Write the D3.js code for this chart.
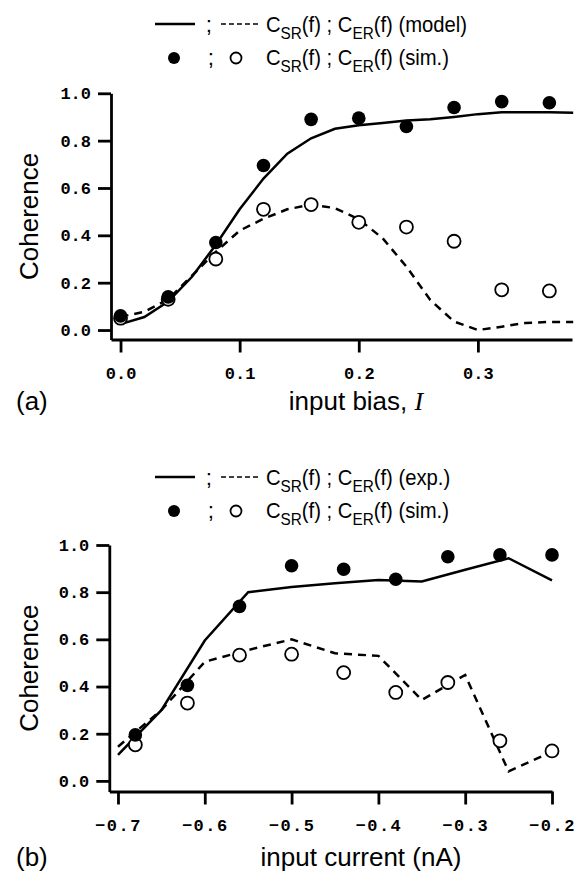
<!DOCTYPE html>
<html>
<head>
<meta charset="utf-8">
<script src="https://cdn.jsdelivr.net/npm/d3@7"></script>
<style>
  body { margin: 0; background: #fff; }
  svg { display: block; }
  .tick text { font-family: "Liberation Mono", monospace; font-size: 17px; font-weight: bold; fill: #000; }
  .domain, .tick line { stroke: #000; stroke-width: 2.8; }
  .lbl { font-family: "Liberation Sans", Arial, sans-serif; font-size: 26px; fill: #000; }
  .leg { font-family: "Liberation Sans", Arial, sans-serif; font-size: 22.5px; fill: #000; }
</style>
</head>
<body>
<div id="chart"></div>
<script>
// panel (a): model curves against input bias
var biasModel = [0, 0.02, 0.04, 0.06, 0.08, 0.10, 0.12, 0.14, 0.16, 0.18,
                 0.20, 0.22, 0.24, 0.26, 0.28, 0.30, 0.32, 0.34, 0.36, 0.38];
var srModel = [0.025, 0.055, 0.12, 0.225, 0.36, 0.51, 0.64, 0.745, 0.81, 0.85,
               0.865, 0.875, 0.885, 0.89, 0.90, 0.912, 0.92, 0.92, 0.92, 0.918];
var erModel = [0.056, 0.077, 0.13, 0.23, 0.33, 0.42, 0.47, 0.51, 0.53, 0.515,
               0.468, 0.388, 0.268, 0.127, 0.036, 0.0, 0.014, 0.03, 0.034, 0.034];

// panel (a): simulation points
var biasSim = [0, 0.04, 0.08, 0.12, 0.16, 0.20, 0.24, 0.28, 0.32, 0.36];
var srSimA = [0.06, 0.14, 0.37, 0.695, 0.89, 0.895, 0.86, 0.94, 0.965, 0.96];
var erSimA = [0.05, 0.13, 0.30, 0.51, 0.53, 0.455, 0.435, 0.375, 0.17, 0.165];

// panel (b): experiment curves against input current
var current = [-0.70, -0.65, -0.60, -0.55, -0.50, -0.45, -0.40, -0.35, -0.30, -0.25, -0.20];
var srExp = [0.11, 0.30, 0.595, 0.80, 0.822, 0.838, 0.852, 0.845, 0.895, 0.944, 0.85];
var erExp = [0.145, 0.30, 0.505, 0.555, 0.60, 0.541, 0.53, 0.343, 0.449, 0.04, 0.124];

// panel (b): simulation points
var currentSim = [-0.68, -0.62, -0.56, -0.50, -0.44, -0.38, -0.32, -0.26, -0.20];
var srSimB = [0.195, 0.405, 0.74, 0.912, 0.897, 0.855, 0.95, 0.958, 0.958];
var erSimB = [0.153, 0.33, 0.533, 0.537, 0.459, 0.375, 0.417, 0.17, 0.127];

var yTicks = [0, 0.2, 0.4, 0.6, 0.8, 1.0];
var xTicksA = [0, 0.1, 0.2, 0.3];
var xTicksB = [-0.7, -0.6, -0.5, -0.4, -0.3, -0.2];

var svg = d3.select("#chart").append("svg")
  .attr("width", 581)
  .attr("height", 876);

function drawPanel(p) {
  var x = d3.scaleLinear().domain(p.xDomain).range(p.xRange),
    y = d3.scaleLinear().domain(p.yDomain).range(p.yRange);

  var g = svg.append("g");

  g.append("g")
    .attr("transform", "translate(0," + p.yRange[0] + ")")
    .call(d3.axisBottom(x).tickValues(p.xTicks).tickSize(13).tickSizeOuter(0)
      .tickPadding(14).tickFormat(p.xFormat))
    .selectAll(".tick text")
      .attr("letter-spacing", p.xSpacing);

  g.append("g")
    .attr("transform", "translate(" + p.xRange[0] + ",0)")
    .call(d3.axisLeft(y).tickValues(yTicks).tickSize(13).tickSizeOuter(0)
      .tickPadding(7).tickFormat(d3.format(".1f")));

  var line = d3.line()
    .x(function(d) { return x(d[0]); })
    .y(function(d) { return y(d[1]); });

  g.append("path")
    .datum(d3.zip(p.lineX, p.solid))
    .attr("fill", "none")
    .attr("stroke", "#000")
    .attr("stroke-width", 2.5)
    .attr("d", line);

  g.append("path")
    .datum(d3.zip(p.lineX, p.dashed))
    .attr("fill", "none")
    .attr("stroke", "#000")
    .attr("stroke-width", 2.5)
    .attr("stroke-dasharray", "8,6")
    .attr("d", line);

  g.selectAll(".open")
    .data(d3.zip(p.simX, p.open))
  .enter().append("circle")
    .attr("class", "open")
    .attr("cx", function(d) { return x(d[0]); })
    .attr("cy", function(d) { return y(d[1]); })
    .attr("r", 6.5)
    .attr("fill", "#fff")
    .attr("stroke", "#000")
    .attr("stroke-width", 1.8);

  g.selectAll(".filled")
    .data(d3.zip(p.simX, p.filled))
  .enter().append("circle")
    .attr("class", "filled")
    .attr("cx", function(d) { return x(d[0]); })
    .attr("cy", function(d) { return y(d[1]); })
    .attr("r", 6.8)
    .attr("fill", "#000");

  // y label
  g.append("text")
    .attr("class", "lbl")
    .attr("text-anchor", "middle")
    .attr("transform", "translate(38," + (p.yRange[0] + p.yRange[1]) / 2 + ") rotate(-90)")
    .text("Coherence");

  // x label + panel letter
  var xl = g.append("text")
    .attr("class", "lbl")
    .attr("text-anchor", "middle")
    .attr("x", p.xLabelX)
    .attr("y", p.labelY);
  xl.append("tspan").text(p.xLabel);
  if (p.xLabelItalic) {
    xl.append("tspan")
      .style("font-family", "'Liberation Serif', serif")
      .style("font-style", "italic")
      .text(p.xLabelItalic);
  }

  g.append("text")
    .attr("class", "lbl")
    .attr("x", 16)
    .attr("y", p.labelY)
    .text(p.letter);

  drawLegend(g, p.legendY, p.legendTag);
}

function drawLegend(g, y0, tag) {
  g.append("line")
    .attr("x1", 155).attr("x2", 195).attr("y1", y0).attr("y2", y0)
    .attr("stroke", "#000").attr("stroke-width", 2.4);
  g.append("line")
    .attr("x1", 221).attr("x2", 258).attr("y1", y0).attr("y2", y0)
    .attr("stroke", "#000").attr("stroke-width", 1.4)
    .attr("stroke-dasharray", "5,3");
  g.append("circle")
    .attr("cx", 174).attr("cy", y0 + 34).attr("r", 6)
    .attr("fill", "#000");
  g.append("circle")
    .attr("cx", 236).attr("cy", y0 + 34).attr("r", 5.5)
    .attr("fill", "#fff").attr("stroke", "#000").attr("stroke-width", 1.8);

  g.append("text").attr("class", "leg").attr("x", 209).attr("y", y0 + 8)
    .attr("text-anchor", "middle").text(";");
  g.append("text").attr("class", "leg").attr("x", 211).attr("y", y0 + 41)
    .attr("text-anchor", "middle").text(";");

  // legend text is a bit condensed in the original
  [[y0 + 8, tag], [y0 + 41, "(sim.)"]].forEach(function(r) {
    var t = g.append("text").attr("class", "leg")
      .attr("transform", "translate(266," + r[0] + ") scale(0.9,1)");
    t.append("tspan").text("C");
    t.append("tspan").attr("dy", 7).style("font-size", "17px").text("SR");
    t.append("tspan").attr("dy", -7).text("(f) ; C");
    t.append("tspan").attr("dy", 7).style("font-size", "17px").text("ER");
    t.append("tspan").attr("dy", -7).text("(f) " + r[1]);
  });
}

drawPanel({
  xDomain: [-0.008, 0.379], xRange: [111, 572],
  yDomain: [-0.04, 1.0], yRange: [339.5, 93.3],
  xTicks: xTicksA, xFormat: d3.format(".1f"), xSpacing: 0,
  lineX: biasModel, solid: srModel, dashed: erModel,
  simX: biasSim, filled: srSimA, open: erSimA,
  xLabel: "input bias, ", xLabelItalic: "I", xLabelX: 356,
  labelY: 410, letter: "(a)",
  legendY: 24, legendTag: "(model)"
});

drawPanel({
  xDomain: [-0.71, -0.2], xRange: [109.3, 552],
  yDomain: [-0.045, 1.0], yRange: [791.5, 545],
  xTicks: xTicksB, xFormat: function(d) { return "\u2212" + d3.format(".1f")(-d); }, xSpacing: 1.5,
  lineX: current, solid: srExp, dashed: erExp,
  simX: currentSim, filled: srSimB, open: erSimB,
  xLabel: "input current (nA)", xLabelItalic: null, xLabelX: 361,
  labelY: 866, letter: "(b)",
  legendY: 477, legendTag: "(exp.)"
});
</script>
</body>
</html>
